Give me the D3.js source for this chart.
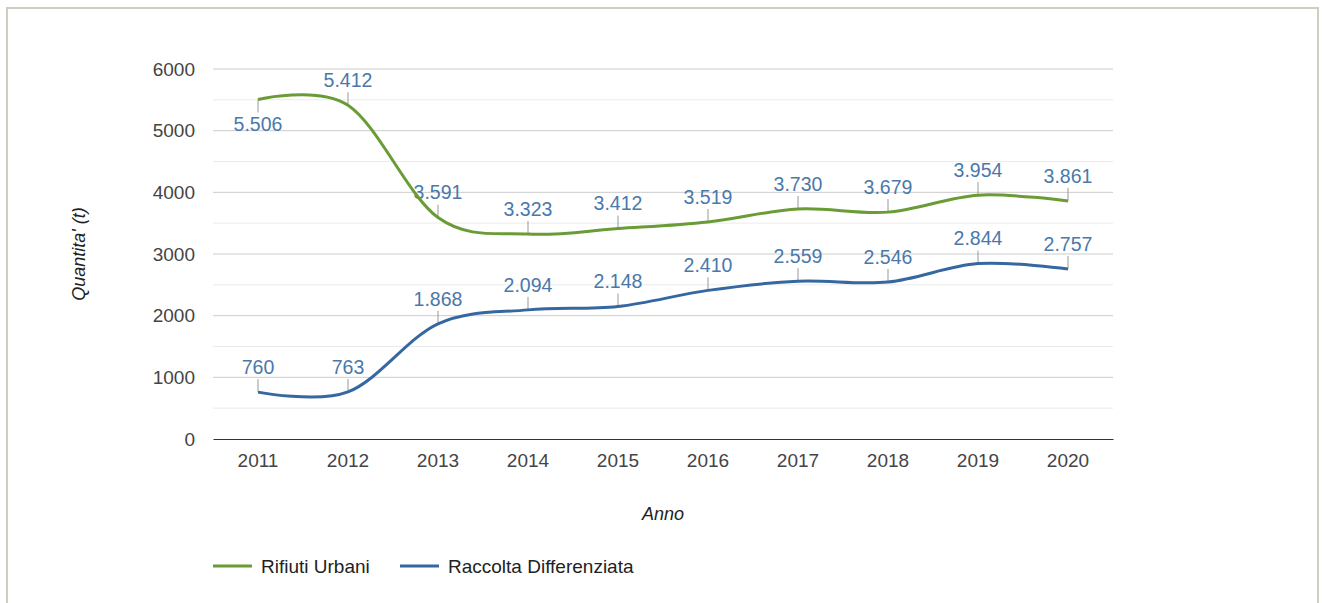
<!DOCTYPE html>
<html>
<head>
<meta charset="utf-8">
<script src="https://cdn.jsdelivr.net/npm/d3@7"></script>
<style>
  body { margin: 0; background: #fff; }
  svg { display: block; font-family: "Liberation Sans", Arial, sans-serif; }
</style>
</head>
<body>
<div id="chart"></div>
<script>
// data
var years = ["2011", "2012", "2013", "2014", "2015", "2016", "2017", "2018", "2019", "2020"];
var rifiutiUrbani = [5506, 5412, 3591, 3323, 3412, 3519, 3730, 3679, 3954, 3861];
var raccoltaDifferenziata = [760, 763, 1868, 2094, 2148, 2410, 2559, 2546, 2844, 2757];
var seriesNames = ["Rifiuti Urbani", "Raccolta Differenziata"];
var seriesColors = ["#6a9c35", "#3567a0"];
var yTicks = [0, 1000, 2000, 3000, 4000, 5000, 6000];
var yMinorTicks = [500, 1500, 2500, 3500, 4500, 5500];
// labels drawn under the point instead of above
var labelsBelow = ["Rifiuti Urbani|2011"];

var W = 1322, H = 603;
var margin = {top: 69, right: 209, bottom: 164, left: 213};
var width = W - margin.left - margin.right,
    height = H - margin.top - margin.bottom;

var fmt = d3.formatLocale({decimal: ",", thousands: ".", grouping: [3], currency: ["", "€"]}).format(",d");

var svg = d3.select("#chart").append("svg")
    .attr("width", W)
    .attr("height", H);

// frame
svg.append("path")
    .attr("d", "M7," + (H + 2) + "V8H1318V" + (H + 2))
    .attr("fill", "none")
    .attr("stroke", "#cdd0be")
    .attr("stroke-width", 2);

var g = svg.append("g")
    .attr("transform", "translate(" + margin.left + "," + margin.top + ")");

var x = d3.scaleBand().domain(years).range([0, width]);
var y = d3.scaleLinear().domain([0, 6000]).range([height, 0]);

// grid
g.selectAll(".minor").data(yMinorTicks).enter().append("line")
    .attr("x1", 0).attr("x2", width)
    .attr("y1", function (d) { return y(d); })
    .attr("y2", function (d) { return y(d); })
    .attr("stroke", "#ebebeb");

g.selectAll(".major").data(yTicks.filter(function (d) { return d > 0; })).enter().append("line")
    .attr("x1", 0).attr("x2", width)
    .attr("y1", function (d) { return y(d); })
    .attr("y2", function (d) { return y(d); })
    .attr("stroke", "#cccccc");

// y axis labels
var yAxis = g.append("g")
    .call(d3.axisLeft(y).tickValues(yTicks).tickSize(0).tickPadding(18).tickFormat(d3.format("d")));
yAxis.select(".domain").remove();
yAxis.selectAll("text")
    .attr("fill", "#444")
    .style("font-size", "19px");

// x axis
var xAxis = g.append("g")
    .attr("transform", "translate(0," + height + ")")
    .call(d3.axisBottom(x).tickSize(0).tickPadding(15));
xAxis.select(".domain").attr("stroke", "#333").attr("stroke-width", 1);
xAxis.selectAll("text")
    .attr("fill", "#444")
    .style("font-size", "19px");

// axis titles
g.append("text")
    .attr("x", width / 2)
    .attr("y", height + 81)
    .attr("text-anchor", "middle")
    .style("font-size", "18px")
    .style("font-style", "italic")
    .attr("fill", "#222")
    .text("Anno");

g.append("text")
    .attr("transform", "translate(" + (79 - margin.left) + "," + (height / 2) + ") rotate(-90)")
    .attr("text-anchor", "middle")
    .attr("dy", "0.35em")
    .style("font-size", "18px")
    .style("font-style", "italic")
    .attr("fill", "#222")
    .text("Quantita' (t)");

var series = [rifiutiUrbani, raccoltaDifferenziata].map(function (vals, i) {
    return {
        name: seriesNames[i],
        color: seriesColors[i],
        values: vals.map(function (v, j) { return {year: years[j], value: v}; })
    };
});

var line = d3.line()
    .x(function (d) { return x(d.year) + x.bandwidth() / 2; })
    .y(function (d) { return y(d.value); })
    .curve(d3.curveCardinal.tension(0));

// leader lines + labels
series.forEach(function (s) {
    var lg = g.append("g");
    s.values.forEach(function (d) {
        var below = labelsBelow.indexOf(s.name + "|" + d.year) >= 0;
        var cx = x(d.year) + x.bandwidth() / 2, cy = y(d.value);
        var dir = below ? 1 : -1;
        lg.append("line")
            .attr("x1", cx).attr("x2", cx)
            .attr("y1", cy).attr("y2", cy + dir * 13)
            .attr("stroke", "#999")
            .attr("stroke-width", 1);
        lg.append("text")
            .attr("x", cx)
            .attr("y", cy + dir * 25)
            .attr("dy", "0.35em")
            .attr("text-anchor", "middle")
            .style("font-size", "19.5px")
            .attr("fill", "#4a78ab")
            .text(fmt(d.value));
    });
});

series.forEach(function (s) {
    g.append("path")
        .datum(s.values)
        .attr("d", line)
        .attr("fill", "none")
        .attr("stroke", s.color)
        .attr("stroke-width", 3);
});

// legend
var legendX = [0, 187];
var legend = svg.append("g")
    .attr("transform", "translate(213,566)");
series.forEach(function (s, i) {
    var lgi = legend.append("g").attr("transform", "translate(" + legendX[i] + ",0)");
    lgi.append("line")
        .attr("x1", 0).attr("x2", 39)
        .attr("stroke", s.color)
        .attr("stroke-width", 3);
    lgi.append("text")
        .attr("x", 48)
        .attr("dy", "0.35em")
        .style("font-size", "19px")
        .attr("fill", "#222")
        .text(s.name);
});
</script>
</body>
</html>
